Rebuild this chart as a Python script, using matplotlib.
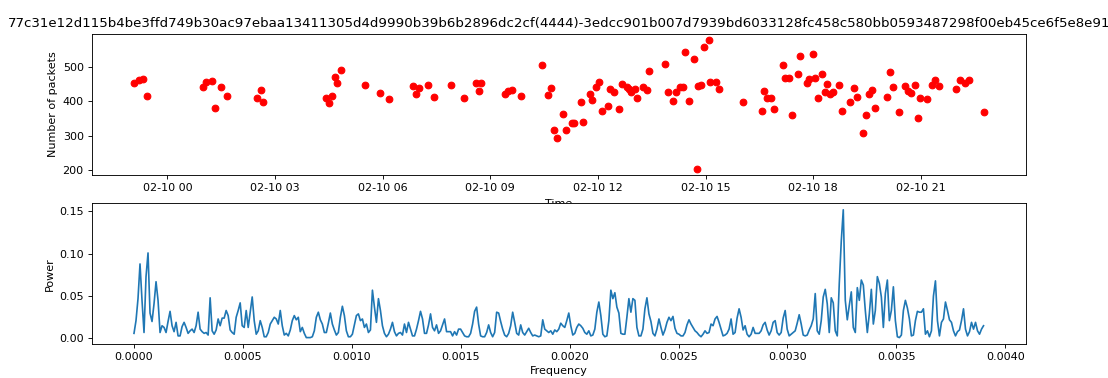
import numpy as np
import pandas as pd
import matplotlib
matplotlib.use("Agg")
import matplotlib.pyplot as plt

title = ("77c31e12d115b4be3ffd749b30ac97ebaa13411305d4d9990b39b6b2896dc2cf(4444)-"
         "3edcc901b007d7939bd6033128fc458c580bb0593487298f00eb45ce6f5e8e91")

# packet counts per capture time
times = ["02-09 23:04", "02-09 23:13", "02-09 23:19", "02-09 23:25",
         "02-10 01:00", "02-10 01:04", "02-10 01:15", "02-10 01:20", "02-10 01:30", "02-10 01:40",
         "02-10 02:30", "02-10 02:36", "02-10 02:40",
         "02-10 04:25", "02-10 04:30", "02-10 04:36", "02-10 04:41", "02-10 04:44", "02-10 04:50",
         "02-10 05:30", "02-10 05:56", "02-10 06:10", "02-10 06:50", "02-10 06:55", "02-10 07:01",
         "02-10 07:15", "02-10 07:26", "02-10 07:55", "02-10 08:16", "02-10 08:36", "02-10 08:41",
         "02-10 08:45", "02-10 09:25", "02-10 09:30", "02-10 09:37", "02-10 09:51",
         "02-10 10:26", "02-10 10:36", "02-10 10:41", "02-10 10:46", "02-10 10:51",
         "02-10 11:01", "02-10 11:06", "02-10 11:16", "02-10 11:20", "02-10 11:32", "02-10 11:35",
         "02-10 11:46", "02-10 11:50", "02-10 11:56", "02-10 12:01", "02-10 12:07", "02-10 12:17",
         "02-10 12:21", "02-10 12:27", "02-10 12:36", "02-10 12:41", "02-10 12:48", "02-10 12:52",
         "02-10 12:56", "02-10 13:02", "02-10 13:06", "02-10 13:16", "02-10 13:22", "02-10 13:26",
         "02-10 13:52", "02-10 13:58", "02-10 14:06", "02-10 14:11", "02-10 14:17", "02-10 14:22",
         "02-10 14:26", "02-10 14:32", "02-10 14:41", "02-10 14:46", "02-10 14:48", "02-10 14:53",
         "02-10 14:58", "02-10 15:05", "02-10 15:08", "02-10 15:18", "02-10 15:22",
         "02-10 16:02", "02-10 16:34", "02-10 16:38", "02-10 16:43", "02-10 16:49", "02-10 16:55",
         "02-10 17:09", "02-10 17:13", "02-10 17:19", "02-10 17:24", "02-10 17:34", "02-10 17:38",
         "02-10 17:49", "02-10 17:53", "02-10 17:59", "02-10 18:03", "02-10 18:08", "02-10 18:14",
         "02-10 18:19", "02-10 18:24", "02-10 18:29", "02-10 18:34", "02-10 18:44", "02-10 18:48",
         "02-10 19:02", "02-10 19:08", "02-10 19:14", "02-10 19:23", "02-10 19:29", "02-10 19:34",
         "02-10 19:39", "02-10 19:44", "02-10 20:04", "02-10 20:09", "02-10 20:14", "02-10 20:24",
         "02-10 20:34", "02-10 20:38", "02-10 20:44", "02-10 20:50", "02-10 20:55", "02-10 20:58",
         "02-10 21:10", "02-10 21:19", "02-10 21:24", "02-10 21:30", "02-10 21:59", "02-10 22:05",
         "02-10 22:14", "02-10 22:20", "02-10 22:45"]
packets = [453, 463, 466, 416,
           441, 456, 460, 382, 441, 416,
           409, 434, 398,
           409, 394, 416, 472, 453, 492,
           447, 425, 406, 445, 422, 438,
           447, 414, 447, 409, 454, 432,
           454, 422, 430, 435, 416,
           506, 418, 439, 316, 294,
           364, 315, 336, 338, 399, 340,
           421, 403, 441, 456, 371, 386,
           437, 427, 378, 450, 443, 437,
           427, 437, 409, 443, 433, 489,
           511, 427, 402, 427, 443, 442,
           546, 402, 524, 203, 446, 448,
           560, 579, 456, 456, 436,
           399, 371, 432, 409, 411, 379,
           506, 468, 468, 361, 480, 534,
           453, 467, 539, 468, 409, 480,
           427, 450, 423, 427, 447, 371,
           399, 439, 413, 306, 361, 422,
           434, 380, 413, 486, 441, 369,
           444, 430, 424, 449, 352, 409,
           407, 449, 464, 444, 437, 464,
           453, 464, 369]

# periodogram of the packet series
freq_max = 0.0039
power = [0.006, 0.021, 0.047, 0.088, 0.045, 0.007, 0.073, 0.101, 0.030, 0.020,
         0.041, 0.067, 0.045, 0.007, 0.015, 0.013, 0.007, 0.020, 0.032, 0.015,
         0.008, 0.019, 0.003, 0.003, 0.014, 0.019, 0.013, 0.006, 0.009, 0.011,
         0.007, 0.015, 0.031, 0.011, 0.008, 0.006, 0.007, 0.004, 0.048, 0.009,
         0.005, 0.010, 0.023, 0.015, 0.024, 0.024, 0.033, 0.027, 0.010, 0.007,
         0.005, 0.025, 0.033, 0.042, 0.015, 0.013, 0.033, 0.013, 0.031, 0.049,
         0.021, 0.005, 0.009, 0.021, 0.013, 0.002, 0.002, 0.007, 0.017, 0.021,
         0.025, 0.023, 0.017, 0.033, 0.015, 0.004, 0.006, 0.003, 0.010, 0.021,
         0.027, 0.022, 0.025, 0.008,
         0.013, 0.006, 0.001, 0.001, 0.001, 0.002, 0.009, 0.025, 0.031, 0.022,
         0.017, 0.007, 0.007, 0.018, 0.030, 0.017, 0.010, 0.004, 0.007, 0.025,
         0.038, 0.027, 0.009, 0.002, 0.002, 0.005, 0.016, 0.027, 0.029, 0.021,
         0.023, 0.013, 0.017, 0.007, 0.010, 0.057, 0.037, 0.019, 0.047, 0.033,
         0.015, 0.006, 0.002, 0.005, 0.011, 0.019, 0.008, 0.003, 0.006, 0.007,
         0.004, 0.017, 0.007, 0.019, 0.011, 0.003, 0.003, 0.011, 0.021, 0.032,
         0.023, 0.006, 0.006, 0.016, 0.029, 0.013, 0.009, 0.016, 0.006, 0.009,
         0.016, 0.023, 0.008, 0.008, 0.008, 0.003, 0.008, 0.004, 0.011, 0.011,
         0.007, 0.003, 0.002, 0.002, 0.006, 0.017, 0.032,
         0.037, 0.017, 0.003, 0.002, 0.002, 0.007, 0.016, 0.007, 0.002, 0.007,
         0.031, 0.030, 0.020, 0.011, 0.004, 0.002, 0.006, 0.015, 0.031, 0.019,
         0.006, 0.004, 0.016, 0.007, 0.004, 0.008, 0.012, 0.007, 0.003, 0.004,
         0.003, 0.002, 0.003, 0.022, 0.011, 0.009, 0.007, 0.009, 0.005, 0.010,
         0.008, 0.011, 0.018, 0.015, 0.013, 0.021, 0.030, 0.015, 0.004, 0.006,
         0.013, 0.017, 0.015, 0.012, 0.007, 0.005, 0.009, 0.003, 0.004, 0.011,
         0.031, 0.043, 0.027, 0.005, 0.002, 0.003, 0.021, 0.057, 0.047, 0.054,
         0.037, 0.030, 0.006, 0.005, 0.005, 0.025, 0.047, 0.031, 0.047, 0.045,
         0.013, 0.003, 0.003, 0.011, 0.035, 0.048, 0.029,
         0.020, 0.006, 0.003, 0.011, 0.023, 0.013, 0.004, 0.010, 0.019, 0.025,
         0.021, 0.026, 0.012, 0.006, 0.005, 0.003, 0.003, 0.007, 0.016, 0.022,
         0.017, 0.013, 0.009, 0.007, 0.004, 0.002, 0.005, 0.009, 0.006, 0.007,
         0.017, 0.015, 0.023, 0.026, 0.019, 0.011, 0.003, 0.004, 0.006, 0.011,
         0.023, 0.005, 0.007, 0.024, 0.035, 0.025, 0.010, 0.015, 0.005, 0.002,
         0.005, 0.013, 0.006, 0.006, 0.006, 0.009, 0.016, 0.019, 0.010, 0.004,
         0.009, 0.019, 0.021, 0.007, 0.004, 0.007, 0.024, 0.033, 0.011, 0.003,
         0.005, 0.007, 0.009, 0.018, 0.028, 0.017, 0.004, 0.003, 0.004, 0.010,
         0.015, 0.023, 0.053, 0.009, 0.005, 0.021, 0.049,
         0.058, 0.041, 0.007, 0.048, 0.042, 0.009, 0.003, 0.065, 0.115, 0.152,
         0.045, 0.022, 0.039, 0.055, 0.013, 0.007, 0.060, 0.045, 0.069, 0.063,
         0.033, 0.007, 0.029, 0.058, 0.017, 0.033, 0.073, 0.065, 0.049, 0.013,
         0.053, 0.069, 0.021, 0.033, 0.061, 0.021, 0.002, 0.001, 0.004, 0.033,
         0.045, 0.036, 0.023, 0.003, 0.004, 0.021, 0.032, 0.031, 0.031, 0.035,
         0.005, 0.009, 0.002, 0.009, 0.050, 0.068, 0.021, 0.003, 0.019, 0.023,
         0.043, 0.033, 0.022, 0.019, 0.009, 0.003, 0.008, 0.010, 0.021, 0.035,
         0.011, 0.003, 0.008, 0.019, 0.011, 0.019, 0.009, 0.005, 0.011, 0.015]

freq = np.linspace(0, freq_max, len(power))
stamps = pd.to_datetime(["2024-" + t for t in times])

fig = plt.figure(figsize=(1108 / 80, 378 / 80), dpi=80)

ax1 = fig.add_axes([0.0826, 0.537, 0.8434, 0.373])
ax1.plot(stamps, packets, 'ro')
ax1.set_xlabel("Time", labelpad=5.5)
ax1.set_ylabel("Number of packets")
ax1.set_title(title)

ax2 = fig.add_axes([0.0826, 0.090, 0.8434, 0.372])
ax2.plot(freq, power)
ax2.set_xlabel("Frequency")
ax2.set_ylabel("Power")

fig.savefig("out.png", dpi=80)
